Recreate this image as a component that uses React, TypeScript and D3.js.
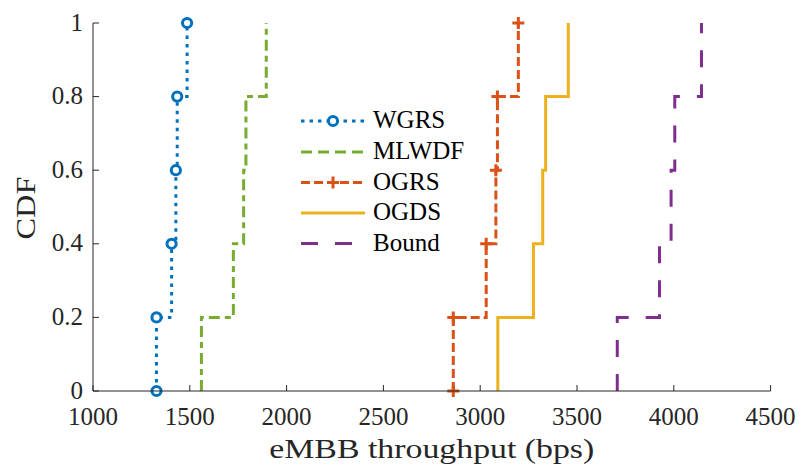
import React from "react";
import * as d3 from "d3";

const cdfLevels = [0, 0.2, 0.4, 0.6, 0.8, 1];
const wgrs = [1328, 1328, 1406, 1428, 1435, 1486];
const mlwdf = [1560, 1560, 1725, 1778, 1790, 1895];
const ogrs = [2861, 2861, 3031, 3081, 3089, 3197];
const ogds = [3091, 3091, 3275, 3323, 3338, 3455];
const bound = [3708, 3708, 3926, 3986, 4005, 4143];

const seriesNames = ["WGRS", "MLWDF", "OGRS", "OGDS", "Bound"];
const xTicks = [1000, 1500, 2000, 2500, 3000, 3500, 4000, 4500];
const yTicks = [0, 0.2, 0.4, 0.6, 0.8, 1];
const yTickLabels = ["0", "0.2", "0.4", "0.6", "0.8", "1"];

const W = 803;
const H = 466;
const M = { left: 93, top: 23, right: 32.4, bottom: 75 };
const FONT = "'Liberation Serif', 'DejaVu Serif', 'Times New Roman', Times, serif";
const AX = "#262626";

type Style = { color: string; dash: string; marker: "circle" | "plus" | null };
const styles: Style[] = [
  { color: "#0072BD", dash: "3.5,5", marker: "circle" },
  { color: "#77AC30", dash: "11,5,6,5", marker: null },
  { color: "#D95319", dash: "9,4", marker: "plus" },
  { color: "#EDB120", dash: "none", marker: null },
  { color: "#7E2F8E", dash: "17,17", marker: null },
];

export default function App() {
  const x = d3.scaleLinear().domain([1000, 4500]).range([M.left, W - M.right]);
  const y = d3.scaleLinear().domain([0, 1]).range([H - M.bottom, M.top]);
  const data = [wgrs, mlwdf, ogrs, ogds, bound];
  const line = d3
    .line<[number, number]>()
    .x((d) => x(d[0]))
    .y((d) => y(d[1]))
    .curve(d3.curveStepAfter);

  const marker = (m: Style["marker"], cx: number, cy: number, color: string, key: string) => {
    if (m === "circle")
      return <circle key={key} cx={cx} cy={cy} r={4.6} fill="white" stroke={color} strokeWidth={3} />;
    if (m === "plus")
      return (
        <path
          key={key}
          d={`M${cx - 6},${cy}H${cx + 6}M${cx},${cy - 6}V${cy + 6}`}
          stroke={color}
          strokeWidth={3}
          fill="none"
        />
      );
    return null;
  };

  const x0 = M.left;
  const yb = H - M.bottom;
  const legendY = [121, 152, 182.5, 213, 243.5];

  return (
    <svg
      width={W}
      height={H}
      fontFamily={FONT}
      style={{ position: "absolute", left: 0, top: 0, background: "white" }}
    >
      <rect width={W} height={H} fill="white" />
      {data.map((vals, i) => {
        const pts: [number, number][] = vals.map((v, j) => [v, cdfLevels[j]]);
        const s = styles[i];
        return (
          <g key={seriesNames[i]}>
            <path
              d={line(pts) || ""}
              fill="none"
              stroke={s.color}
              strokeWidth={3}
              strokeDasharray={s.dash}
            />
            {pts.map((p, j) => marker(s.marker, x(p[0]), y(p[1]), s.color, `${i}-${j}`))}
          </g>
        );
      })}
      {/* axes */}
      <line x1={x0} x2={W - M.right} y1={yb} y2={yb} stroke={AX} strokeWidth={1} />
      <line x1={x0} x2={x0} y1={yb} y2={M.top} stroke={AX} strokeWidth={1} />
      {xTicks.map((t) => (
        <g key={`xt${t}`}>
          <line x1={x(t)} x2={x(t)} y1={yb} y2={yb - 6} stroke={AX} strokeWidth={1} />
          <text x={x(t)} y={yb + 34} textAnchor="middle" fontSize={25} fill={AX} fontFamily={FONT}>
            {t}
          </text>
        </g>
      ))}
      {yTicks.map((t, i) => (
        <g key={`yt${t}`}>
          <line x1={x0} x2={x0 + 6} y1={y(t)} y2={y(t)} stroke={AX} strokeWidth={1} />
          <text x={x0 - 10} y={y(t) + 7.5} textAnchor="end" fontSize={25} fill={AX} fontFamily={FONT}>
            {yTickLabels[i]}
          </text>
        </g>
      ))}
      <text
        x={(x0 + W - M.right) / 2}
        y={458}
        textAnchor="middle"
        fontSize={28}
        fill={AX}
        textLength={325}
        lengthAdjust="spacingAndGlyphs"
        fontFamily={FONT}
      >
        eMBB throughput (bps)
      </text>
      <text
        transform={`translate(35,${208}) rotate(-90)`}
        textAnchor="middle"
        fontSize={28}
        fill={AX}
        textLength={63}
        lengthAdjust="spacingAndGlyphs"
        fontFamily={FONT}
      >
        CDF
      </text>
      {/* legend */}
      {seriesNames.map((n, i) => {
        const s = styles[i];
        const ly = legendY[i];
        return (
          <g key={`lg${n}`}>
            <line
              x1={301}
              x2={365}
              y1={ly}
              y2={ly}
              stroke={s.color}
              strokeWidth={3}
              strokeDasharray={s.dash === "11,5,6,5" ? "11,6" : s.dash}
            />
            {marker(s.marker, 333, ly, s.color, `lm${i}`)}
            <text x={373} y={ly + 7} fontSize={25} fill="#000" fontFamily={FONT}>
              {n}
            </text>
          </g>
        );
      })}
    </svg>
  );
}
